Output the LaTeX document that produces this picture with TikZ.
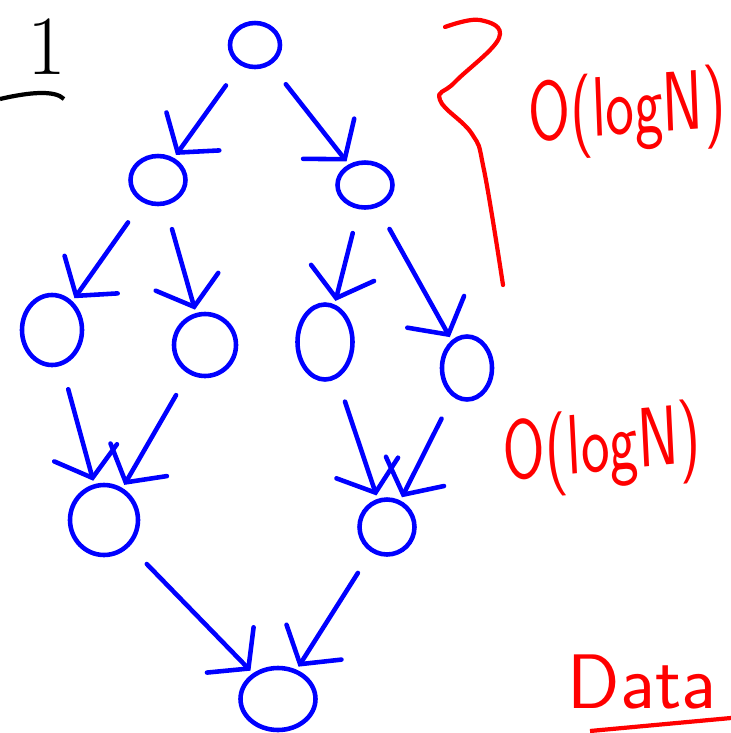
\documentclass[tikz,border=0pt]{standalone}
\usepackage{tikz}
\usetikzlibrary{arrows.meta, shapes.geometric}
\begin{document}
\begin{tikzpicture}[
  blob/.style={ellipse, draw=blue, line width=1.3pt, inner sep=0pt},
  link/.style={-{Straight Barb[length=2.6mm, width=6.5mm, line cap=round]}, draw=blue, line width=1.3pt, line cap=round, shorten <=7pt, shorten >=1pt},
  note/.style={text=red, font=\sffamily\fontsize{24}{26}\selectfont, xscale=0.72}]
  \useasboundingbox (0,0) rectangle (7.31,-7.33);

  % tree nodes
  \node[blob, minimum width=0.50cm, minimum height=0.44cm] (root) at (2.55,-0.45) {};
  \node[blob, minimum width=0.55cm, minimum height=0.48cm] (l1) at (1.58,-1.80) {};
  \node[blob, minimum width=0.55cm, minimum height=0.45cm] (r1) at (3.65,-1.85) {};
  \node[blob, minimum width=0.60cm, minimum height=0.70cm] (ll2) at (0.52,-3.30) {};
  \node[blob, minimum width=0.62cm, minimum height=0.62cm] (lr2) at (2.05,-3.45) {};
  \node[blob, minimum width=0.55cm, minimum height=0.75cm] (rl2) at (3.25,-3.42) {};
  \node[blob, minimum width=0.50cm, minimum height=0.63cm] (rr2) at (4.67,-3.68) {};
  \node[blob, minimum width=0.68cm, minimum height=0.70cm] (l3) at (1.04,-5.20) {};
  \node[blob, minimum width=0.55cm, minimum height=0.55cm] (r3) at (3.87,-5.27) {};
  \node[blob, minimum width=0.75cm, minimum height=0.62cm] (data) at (2.78,-6.99) {};

  % arrows
  \draw[link] (root) -- (l1);
  \draw[link] (root) -- (r1);
  \draw[link] (l1) -- (ll2);
  \draw[link] (l1) -- (lr2);
  \draw[link] (r1) -- (rl2);
  \draw[link] (r1) -- (rr2);
  \draw[link] (ll2) -- (l3);
  \draw[link] (lr2) -- (l3);
  \draw[link] (rl2) -- (r3);
  \draw[link] (rr2) -- (r3);
  \draw[link] (l3) -- (data);
  \draw[link] (r3) -- (data);

  % brace and labels
  \draw[red, line width=1.2pt, line cap=round] plot[smooth, tension=0.7] coordinates {(4.45,-0.27) (4.80,-0.20) (4.99,-0.38) (4.55,-0.82) (4.40,-1.00) (4.72,-1.34) (4.84,-1.70) (5.03,-2.85)};
  \node[note, rotate=3] (top) at (6.27,-1.13) {O(logN)};
  \node[note, rotate=4] (mid) at (6.02,-4.50) {O(logN)};
  \node[text=red, font=\sffamily\fontsize{22}{24}\selectfont] (lab) at (6.42,-6.82) {Data};
  \draw[red, line width=1.2pt] (5.90,-7.31) -- (7.31,-7.18);

  \node[font=\fontsize{24}{26}\selectfont, anchor=base, inner sep=0pt] (num) at (0.47,-0.74) {1};
  \draw[line width=1.2pt] (0,-0.99) .. controls (0.3,-0.92) and (0.55,-0.90) .. (0.64,-0.99);
\end{tikzpicture}
\end{document}
